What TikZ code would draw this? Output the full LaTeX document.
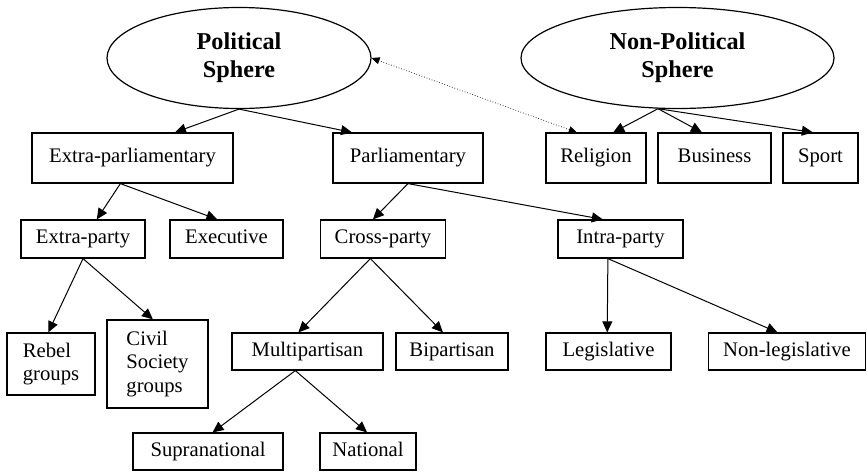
\documentclass[tikz,border=0pt]{standalone}
\usepackage{fontspec}
\setmainfont{Liberation Serif}
\usetikzlibrary{arrows.meta,calc,shapes.geometric}
\newcommand\tp[2]{($(#1.north west)!#2!(#1.north east)$)}
\newcommand\bp[2]{($(#1.south west)!#2!(#1.south east)$)}
\begin{document}
\begin{tikzpicture}[x=1pt,y=-1pt,
  box/.style={draw,line width=1.2pt,rectangle,inner sep=0pt,font=\fontsize{20.7}{23.3}\selectfont,align=left},
  one/.style={box,text height=14pt,text depth=4.5pt},
  sphere/.style={draw,line width=1.2pt,ellipse,inner sep=0pt,font=\bfseries\fontsize{24.2}{28}\selectfont,align=center},
  arr/.style={line width=1pt,-{Triangle[length=11pt,width=10pt]}},
  dots/.style={line width=0.7pt,dotted,{Triangle[length=8pt,width=7pt]}-{Triangle[length=8pt,width=7pt]}}]
\useasboundingbox (0,0) rectangle (867,471);
% spheres
\node[sphere,minimum width=264pt,minimum height=101pt] (pol) at (239,58) {Political\\Sphere};
\node[sphere,minimum width=313pt,minimum height=101pt] (npol) at (677.5,58) {Non-Political\\Sphere};
% row 2
\node[one,minimum width=201pt,minimum height=50pt] (extraparl) at (132.5,158) {Extra-parliamentary};
\node[one,minimum width=150pt,minimum height=50pt] (parl) at (408,158) {Parliamentary};
\node[one,minimum width=100pt,minimum height=50pt] (religion) at (596,158) {Religion};
\node[one,minimum width=113pt,minimum height=50pt] (business) at (714.5,158) {Business};
\node[one,minimum width=75pt,minimum height=50pt] (sport) at (820.5,158) {Sport};
% row 3
\node[one,minimum width=124pt,minimum height=38pt] (extraparty) at (83,239) {Extra-party};
\node[one,minimum width=113pt,minimum height=38pt] (executive) at (226.5,239) {Executive};
\node[one,minimum width=125pt,minimum height=38pt] (crossparty) at (383,239) {Cross-party};
\node[one,minimum width=125pt,minimum height=38pt] (intraparty) at (620.5,239) {Intra-party};
% row 4
\node[box,minimum width=88pt,minimum height=62pt] (rebel) at (51,364) {Rebel\\groups};
\node[box,minimum width=101pt,minimum height=88pt] (civil) at (157.5,364) {Civil\\Society\\groups};
\node[one,minimum width=151pt,minimum height=37pt] (multi) at (307.5,351.5) {Multipartisan};
\node[one,minimum width=112pt,minimum height=37pt] (bipart) at (452,351.5) {Bipartisan};
\node[one,minimum width=125pt,minimum height=37pt] (legis) at (608.5,351.5) {Legislative};
\node[one,minimum width=157pt,minimum height=37pt] (nonleg) at (787,351.5) {Non-legislative};
% row 5
\node[one,minimum width=150pt,minimum height=37pt] (supra) at (208,451.5) {Supranational};
\node[one,minimum width=96pt,minimum height=37pt] (national) at (368,451.5) {National};
% connectors
\draw[arr] (pol.south) -- \tp{extraparl}{0.71};
\draw[arr] (pol.south) -- \tp{parl}{0.13};
\draw[arr] (npol.249) -- \tp{religion}{0.67};
\draw[arr] (npol.249) -- \tp{business}{0.39};
\draw[arr] (npol.249) -- \tp{sport}{0.4};
\draw[dots] \tp{religion}{0.31} -- (pol.east);
\draw[arr] \bp{extraparl}{0.44} -- \tp{extraparty}{0.61};
\draw[arr] \bp{extraparl}{0.44} -- \tp{executive}{0.42};
\draw[arr] (parl.south) -- \tp{crossparty}{0.42};
\draw[arr] (parl.south) -- \tp{intraparty}{0.36};
\draw[arr] (extraparty.south) -- \tp{rebel}{0.47};
\draw[arr] (extraparty.south) -- \tp{civil}{0.455};
\draw[arr] \bp{crossparty}{0.4} -- \tp{multi}{0.44};
\draw[arr] \bp{crossparty}{0.4} -- \tp{bipart}{0.42};
\draw[arr] \bp{intraparty}{0.4} -- \tp{legis}{0.49};
\draw[arr] \bp{intraparty}{0.4} -- \tp{nonleg}{0.44};
\draw[arr] \bp{multi}{0.42} -- \tp{supra}{0.53};
\draw[arr] \bp{multi}{0.42} -- \tp{national}{0.49};
\end{tikzpicture}
\end{document}
